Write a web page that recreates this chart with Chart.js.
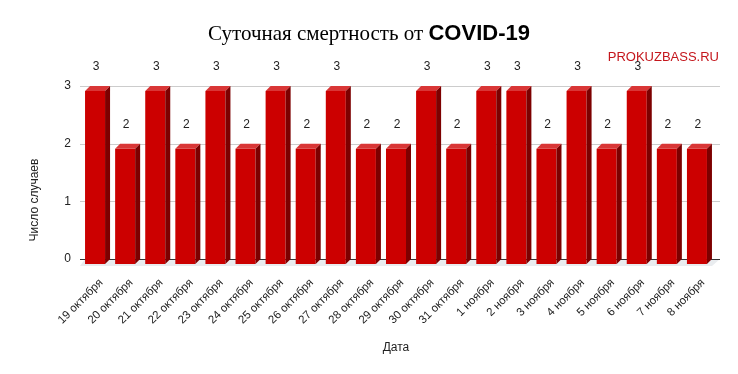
<!DOCTYPE html>
<html>
<head>
<meta charset="utf-8">
<script src="https://cdn.jsdelivr.net/npm/chart.js@4"></script>
<style>
  html, body { margin: 0; padding: 0; background: #fff; }
  #wrap { width: 738px; height: 374px; }
</style>
</head>
<body>
<div id="wrap"><canvas id="chart" width="738" height="374"></canvas></div>
<script>
// Данные графика
const dates = ['19 октября', '20 октября', '21 октября', '22 октября', '23 октября', '24 октября',
    '25 октября', '26 октября', '27 октября', '28 октября', '29 октября', '30 октября', '31 октября',
    '1 ноября', '2 ноября', '3 ноября', '4 ноября', '5 ноября', '6 ноября', '7 ноября', '8 ноября'];
const deaths = [3, 2, 3, 2, 3, 2, 3, 2, 3, 2, 2, 3, 2, 3, 3, 2, 3, 2, 3, 2, 2];
const yTicks = [0, 1, 2, 3];

const DEPTH = 5;  // глубина "3D" столбцов

// Сетка на задней стенке, пол и подписи
const decorPlugin = {
    id: 'decor',
    beforeDatasetsDraw(chart) {
        const { ctx, chartArea } = chart;
        const y = chart.scales.y;
        ctx.save();
        // пол
        ctx.fillStyle = '#e9ecef';
        ctx.beginPath();
        ctx.moveTo(chartArea.left, chartArea.bottom + 2);
        ctx.lineTo(chartArea.right, chartArea.bottom + 2);
        ctx.lineTo(chartArea.right + DEPTH + 3, chartArea.bottom - DEPTH);
        ctx.lineTo(chartArea.left + DEPTH, chartArea.bottom - DEPTH);
        ctx.closePath();
        ctx.fill();
        // линии сетки
        yTicks.forEach(v => {
            const py = Math.round(y.getPixelForValue(v) - DEPTH) + 0.5;
            ctx.strokeStyle = v === 0 ? '#333' : '#cccccc';
            ctx.lineWidth = 1;
            ctx.beginPath();
            ctx.moveTo(chartArea.left, py);
            ctx.lineTo(chartArea.right + 8, py);
            ctx.stroke();
        });
        ctx.restore();
    },
    afterDatasetsDraw(chart) {
        const { ctx } = chart;
        const meta = chart.getDatasetMeta(0);
        ctx.save();
        meta.data.forEach((bar, i) => {
            const half = bar.width / 2;
            const x0 = bar.x - half, x1 = bar.x + half;
            const top = bar.y, bottom = bar.base;
            // верхняя грань
            ctx.fillStyle = '#d93636';
            ctx.beginPath();
            ctx.moveTo(x0, top);
            ctx.lineTo(x1, top);
            ctx.lineTo(x1 + DEPTH, top - DEPTH);
            ctx.lineTo(x0 + DEPTH, top - DEPTH);
            ctx.closePath();
            ctx.fill();
            // боковая грань
            ctx.fillStyle = '#7d0000';
            ctx.beginPath();
            ctx.moveTo(x1, top);
            ctx.lineTo(x1 + DEPTH, top - DEPTH);
            ctx.lineTo(x1 + DEPTH, bottom - DEPTH);
            ctx.lineTo(x1, bottom);
            ctx.closePath();
            ctx.fill();
            // подпись значения
            ctx.fillStyle = '#222';
            ctx.font = '12px "Liberation Sans", Arial, sans-serif';
            ctx.textAlign = 'center';
            ctx.textBaseline = 'middle';
            ctx.fillText(String(deaths[i]), bar.x + 1, top - 24);
        });
        ctx.restore();
    },
    afterDraw(chart) {
        const { ctx } = chart;
        ctx.save();
        // заголовок из двух шрифтов
        const part1 = 'Суточная смертность от ';
        const part2 = 'COVID-19';
        const f1 = '21px "Liberation Serif", "Times New Roman", serif';
        const f2 = 'bold 22px "Liberation Sans", Arial, sans-serif';
        ctx.font = f1;
        const w1 = ctx.measureText(part1).width;
        ctx.font = f2;
        const w2 = ctx.measureText(part2).width;
        let x = 369 - (w1 + w2) / 2;
        ctx.fillStyle = '#000';
        ctx.textBaseline = 'alphabetic';
        ctx.textAlign = 'left';
        ctx.font = f1;
        ctx.fillText(part1, x, 40);
        ctx.font = f2;
        ctx.fillText(part2, x + w1, 40);
        // водяной знак
        ctx.font = '13px "Liberation Sans", Arial, sans-serif';
        ctx.fillStyle = '#c4161c';
        ctx.textAlign = 'right';
        ctx.textBaseline = 'middle';
        ctx.fillText('PROKUZBASS.RU', 719, 57);
        // подпись оси Y
        ctx.translate(35, 200);
        ctx.rotate(-Math.PI / 2);
        ctx.font = '12px "Liberation Sans", Arial, sans-serif';
        ctx.fillStyle = '#222';
        ctx.textAlign = 'center';
        ctx.fillText('Число случаев', 0, 0);
        ctx.restore();
    }
};

const ctx = document.getElementById('chart').getContext('2d');
const chart = new Chart(ctx, {
    type: 'bar',
    data: {
        labels: dates,
        datasets: [{
            data: deaths,
            backgroundColor: '#cc0000',
            borderWidth: 0,
            barPercentage: 0.665,
            categoryPercentage: 1
        }]
    },
    options: {
        responsive: false,
        animation: false,
        devicePixelRatio: 1,
        layout: { padding: { top: 91, right: 26, left: 0, bottom: 0 } },
        plugins: {
            legend: { display: false },
            tooltip: { enabled: false }
        },
        scales: {
            x: {
                grid: { display: false, drawTicks: false },
                border: { display: false },
                ticks: {
                    autoSkip: false,
                    maxRotation: 45,
                    minRotation: 45,
                    padding: 12,
                    labelOffset: 6,
                    color: '#222',
                    font: { family: '"Liberation Sans", Arial, sans-serif', size: 11.5 }
                },
                title: {
                    display: true,
                    text: 'Дата',
                    color: '#222',
                    padding: { top: 4, bottom: 19 },
                    font: { family: '"Liberation Sans", Arial, sans-serif', size: 12 }
                },
                afterFit(scale) { scale.height = 110; }
            },
            y: {
                min: 0,
                max: 3,
                grid: { display: false, drawTicks: false },
                border: { display: false },
                ticks: {
                    stepSize: 1,
                    padding: 9,
                    labelOffset: -5,
                    color: '#222',
                    font: { family: '"Liberation Sans", Arial, sans-serif', size: 12 }
                },
                afterFit(scale) { scale.width = 80; }
            }
        }
    },
    plugins: [decorPlugin]
});
</script>
</body>
</html>
